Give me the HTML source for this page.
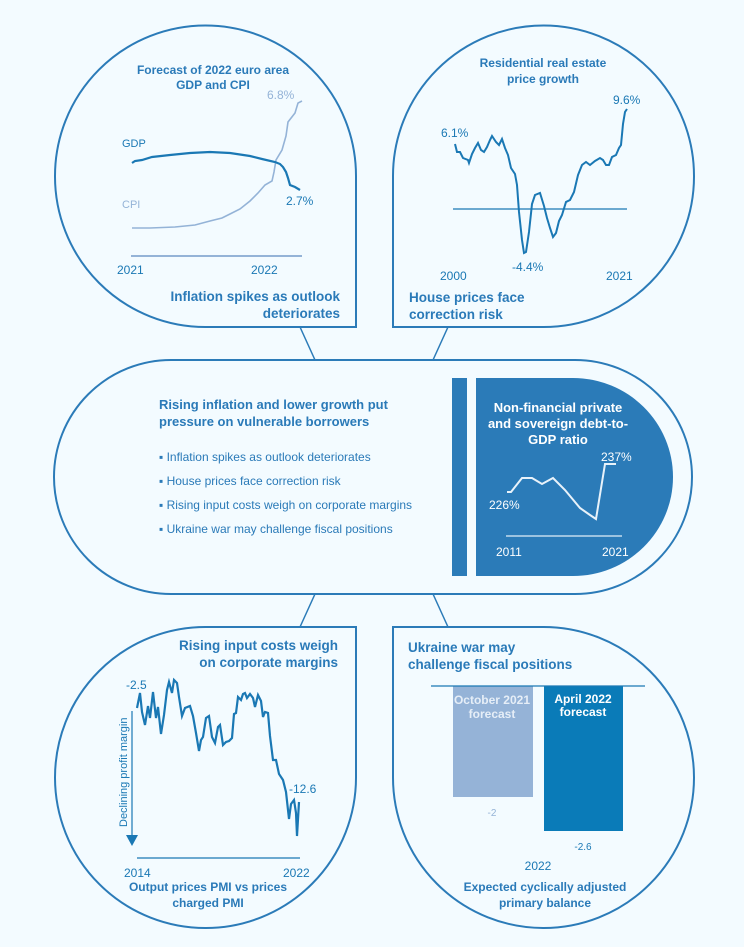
<!DOCTYPE html>
<html><head><meta charset="utf-8"><style>
html,body{margin:0;padding:0;background:#f3fbff;}
svg{display:block;font-family:"Liberation Sans",Arial,sans-serif;}
.t{fill:#2a7ab8;font-weight:bold;}
.n{fill:#1a78b4;}
</style></head><body>
<svg width="744" height="947" viewBox="0 0 744 947" xmlns="http://www.w3.org/2000/svg">
<rect width="744" height="947" fill="#f3fbff"/>
<g fill="none" stroke="#2b7bb8" stroke-width="2">
<path d="M55 176 A150.5 150.5 0 0 1 356 176 L356 327 L205.5 327 A150.5 150.5 0 0 1 55 176 Z"/>
<path d="M393 327 L393 176 A150.5 150.5 0 0 1 694 176 A150.5 150.5 0 0 1 543.5 327 Z"/>
<path d="M356 627 L356 777 A150.5 150.5 0 1 1 205.5 627 Z"/>
<path d="M393 627 L543.5 627 A150.5 150.5 0 1 1 393 777 Z"/>
<rect x="54" y="360" width="638" height="234" rx="117" ry="117"/>
</g>
<g stroke="#2b7bb8" stroke-width="1.5">
<line x1="300" y1="327" x2="315" y2="360"/>
<line x1="448" y1="327" x2="433" y2="360"/>
<line x1="315" y1="594" x2="300" y2="627"/>
<line x1="433" y1="594" x2="448" y2="627"/>
</g>

<text class="t" font-size="12" text-anchor="middle" x="213" y="74">Forecast of 2022 euro area</text>
<text class="t" font-size="12" text-anchor="middle" x="213" y="89">GDP and CPI</text>
<line x1="131" y1="256" x2="302" y2="256" stroke="#94b3d7" stroke-width="2"/>
<polyline fill="none" stroke="#94b3d7" stroke-width="1.6" points="132,228 150,228 175,227 195,225 210,221 222,218 230,214 240,209 250,201 258,193 265,185 272,181 274,172 276,160 282,150 286,136 288,122 295,113 298,103 302,101"/>
<polyline fill="none" stroke="#1a78b4" stroke-width="2.2" points="132,163 135,161 142,160 152,157 170,155 190,153 210,152 230,153 250,156 262,159 275,162 280,164 283,167 286,172 288,178 290,185 295,187 300,190"/>
<text x="122" y="147" fill="#1a78b4" font-size="11">GDP</text>
<text x="122" y="208" fill="#94b3d7" font-size="11">CPI</text>
<text x="286" y="205" fill="#1a78b4" font-size="12">2.7%</text>
<text x="267" y="99" fill="#94b3d7" font-size="12">6.8%</text>
<text x="117" y="274" fill="#1a78b4" font-size="12">2021</text>
<text x="251" y="274" fill="#1a78b4" font-size="12">2022</text>
<text class="t" font-size="13.5" text-anchor="end" x="340" y="301">Inflation spikes as outlook</text>
<text class="t" font-size="13.5" text-anchor="end" x="340" y="318">deteriorates</text>

<text class="t" font-size="12" text-anchor="middle" x="543" y="67">Residential real estate</text>
<text class="t" font-size="12" text-anchor="middle" x="543" y="83">price growth</text>
<line x1="453" y1="209" x2="627" y2="209" stroke="#1a78b4" stroke-width="1.2"/>
<polyline fill="none" stroke="#1a78b4" stroke-width="2" points="455,144 457,152 460,152 463,158 468,160 469,163 472,154 475,148 478,143 481,150 484,152 487,147 490,140 492,136 496,142 499,145 502,139 505,148 508,155 511,168 515,174 517,185 519,212 522,240 524,253 526,252 529,232 532,204 535,195 540,193 544,206 547,218 550,228 553,237 556,233 559,221 562,215 566,202 570,200 574,192 578,175 582,165 586,162 590,165 595,161 600,158 603,160 606,165 609,165 612,157 616,155 619,148 621,145 623,124 625,112 627,109"/>
<text class="n" font-size="12" x="441" y="137">6.1%</text>
<text class="n" font-size="12" x="613" y="104">9.6%</text>
<text class="n" font-size="12" x="512" y="271">-4.4%</text>
<text class="n" font-size="12" x="440" y="280">2000</text>
<text class="n" font-size="12" x="606" y="280">2021</text>
<text class="t" font-size="13.5" x="409" y="302">House prices face</text>
<text class="t" font-size="13.5" x="409" y="319">correction risk</text>

<text class="t" font-size="13" x="159" y="409">Rising inflation and lower growth put</text>
<text class="t" font-size="13" x="159" y="426">pressure on vulnerable borrowers</text>
<g fill="#2a7ab8" font-size="12">
<text x="159" y="461">▪ Inflation spikes as outlook deteriorates</text>
<text x="159" y="485">▪ House prices face correction risk</text>
<text x="159" y="509">▪ Rising input costs weigh on corporate margins</text>
<text x="159" y="533">▪ Ukraine war may challenge fiscal positions</text>
</g>
<rect x="452" y="378" width="15" height="198" fill="#2b7bb8"/>
<path d="M476 378 L573 378 A100 99 0 0 1 573 576 L476 576 Z" fill="#2b7bb8"/>
<g fill="#ffffff" font-weight="bold" font-size="13" text-anchor="middle">
<text x="558" y="412">Non-financial private</text>
<text x="558" y="428">and sovereign debt-to-</text>
<text x="558" y="444">GDP ratio</text>
</g>
<line x1="506" y1="536" x2="622" y2="536" stroke="#e0eef8" stroke-width="1.2"/>
<polyline fill="none" stroke="#e8f2fa" stroke-width="2" points="507,492 511,492 522,478 532,478 542,484 553,478 565,490 580,508 590,515 596,519 605,464 616,464"/>
<g fill="#ffffff" font-size="12">
<text x="489" y="509">226%</text>
<text x="601" y="461">237%</text>
<text x="496" y="556">2011</text>
<text x="602" y="556">2021</text>
</g>

<text class="t" font-size="13.5" text-anchor="end" x="338" y="650">Rising input costs weigh</text>
<text class="t" font-size="13.5" text-anchor="end" x="338" y="667">on corporate margins</text>
<polyline fill="none" stroke="#1a78b4" stroke-width="2.2" points="137,708 140,693 142,712 145,725 148,706 150,718 153,692 156,718 158,707 161,734 164,715 167,690 169,682 172,693 174,680 177,683 179,697 182,716 185,708 190,706 193,716 196,733 199,751 201,740 203,737 206,718 209,716 212,737 215,743 218,727 220,725 223,745 226,742 229,741 232,738 234,714 236,713 238,697 241,700 243,694 245,693 247,698 250,694 253,698 255,707 258,695 261,701 263,717 265,712 268,713 270,736 273,760 276,760 279,774 283,780 286,792 289,819 291,804 294,800 296,813 297,836 299,802"/>
<line x1="132" y1="711" x2="132" y2="836" stroke="#1a78b4" stroke-width="1.2"/>
<polygon points="126,835 138,835 132,846" fill="#1a78b4"/>
<text x="0" y="0" fill="#1a78b4" font-size="11" transform="translate(127,827) rotate(-90)">Declining profit margin</text>
<line x1="137" y1="858" x2="300" y2="858" stroke="#1a78b4" stroke-width="1.2"/>
<text class="n" font-size="12" x="126" y="689">-2.5</text>
<text class="n" font-size="12" x="289" y="793">-12.6</text>
<text class="n" font-size="12" x="124" y="877">2014</text>
<text class="n" font-size="12" x="283" y="877">2022</text>
<text class="t" font-size="12" text-anchor="middle" x="208" y="891">Output prices PMI vs prices</text>
<text class="t" font-size="12" text-anchor="middle" x="208" y="907">charged PMI</text>

<text class="t" font-size="13.5" x="408" y="652">Ukraine war may</text>
<text class="t" font-size="13.5" x="408" y="669">challenge fiscal positions</text>
<rect x="453" y="686" width="80" height="111" fill="#95b3d7"/>
<rect x="544" y="686" width="79" height="145" fill="#0a7bb8"/>
<line x1="431" y1="686" x2="645" y2="686" stroke="#1a78b4" stroke-width="1.2"/>
<g font-weight="bold" font-size="12" text-anchor="middle">
<text x="492" y="704" fill="#e6eef7">October 2021</text>
<text x="492" y="718" fill="#e6eef7">forecast</text>
<text x="583" y="703" fill="#ffffff">April 2022</text>
<text x="583" y="716" fill="#ffffff">forecast</text>
</g>
<text x="492" y="816" fill="#95b3d7" font-size="10" text-anchor="middle">-2</text>
<text x="583" y="850" fill="#1a78b4" font-size="10" text-anchor="middle">-2.6</text>
<text class="n" font-size="12" x="538" y="870" text-anchor="middle">2022</text>
<text class="t" font-size="12" text-anchor="middle" x="545" y="891">Expected cyclically adjusted</text>
<text class="t" font-size="12" text-anchor="middle" x="545" y="907">primary balance</text>
</svg>
</body></html>
